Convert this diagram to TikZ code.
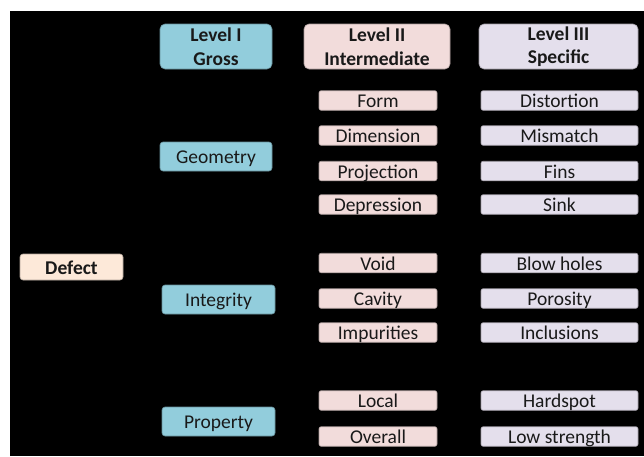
\documentclass[tikz,border=0pt]{standalone}
\usepackage{fontspec}
\setmainfont{Carlito}
\definecolor{defectc}{HTML}{FDE9D9}
\definecolor{grossc}{HTML}{92CDDC}
\definecolor{interc}{HTML}{F2DCDB}
\definecolor{specc}{HTML}{E4DFEC}
\tikzset{
  lvl/.style={draw=#1!70!black, fill=#1, line width=0.6pt, inner sep=0pt, text=black!90,
    font=\fontsize{19.5}{23}\selectfont, align=center},
  oneline/.style={text height=15pt, text depth=1pt},
  head/.style={lvl=#1, rounded corners=5pt, minimum height=45pt, font=\fontsize{19.5}{23.5}\selectfont\bfseries},
  item/.style={lvl=#1, oneline, rounded corners=2pt, minimum height=19.5pt},
  gross/.style={lvl=grossc, oneline, rounded corners=3pt, minimum width=113pt, minimum height=29pt}
}

\begin{document}
\begin{tikzpicture}[x=1pt,y=-1pt]
        \useasboundingbox (0,0) rectangle (644,456);
        \fill[black] (10,11) rectangle (644,456);
        %headers
        \node[head=grossc, minimum width=112pt] (lvlone) at (216,46.5) {Level I\\Gross};
        \node[head=interc, minimum width=146pt] (lvltwo) at (377,46.5) {Level II\\Intermediate};
        \node[head=specc, minimum width=159pt] (lvlthree) at (558.5,46.5) {Level III\\Specific};
        %root
        \node[lvl=defectc, oneline, rounded corners=3pt, minimum width=103pt, minimum height=26pt, font=\fontsize{19.5}{23}\selectfont\bfseries] (defect) at (71.5,267) {Defect};
        %level I
        \node[gross, minimum width=112pt] (geometry) at (216,156.5) {Geometry};
        \node[gross] (integrity) at (218.5,299.5) {Integrity};
        \node[gross] (property) at (218.5,421.5) {Property};
        %level II and III
        \foreach \y/\n/\mid/\spec in {100.5/a/Form/Distortion, 135.5/b/Dimension/Mismatch,
            171/c/Projection/Fins, 204.5/d/Depression/Sink, 263/e/Void/Blow holes,
            298.5/f/Cavity/Porosity, 332.5/g/Impurities/Inclusions,
            400.5/h/Local/Hardspot, 436.5/i/Overall/Low strength} {
        \node[item=interc, minimum width=118pt] (mid-\n) at (378,\y) {\mid};
        \node[item=specc, minimum width=157pt] (spec-\n) at (559.5,\y) {\spec};}
    \end{tikzpicture}
\end{document}
